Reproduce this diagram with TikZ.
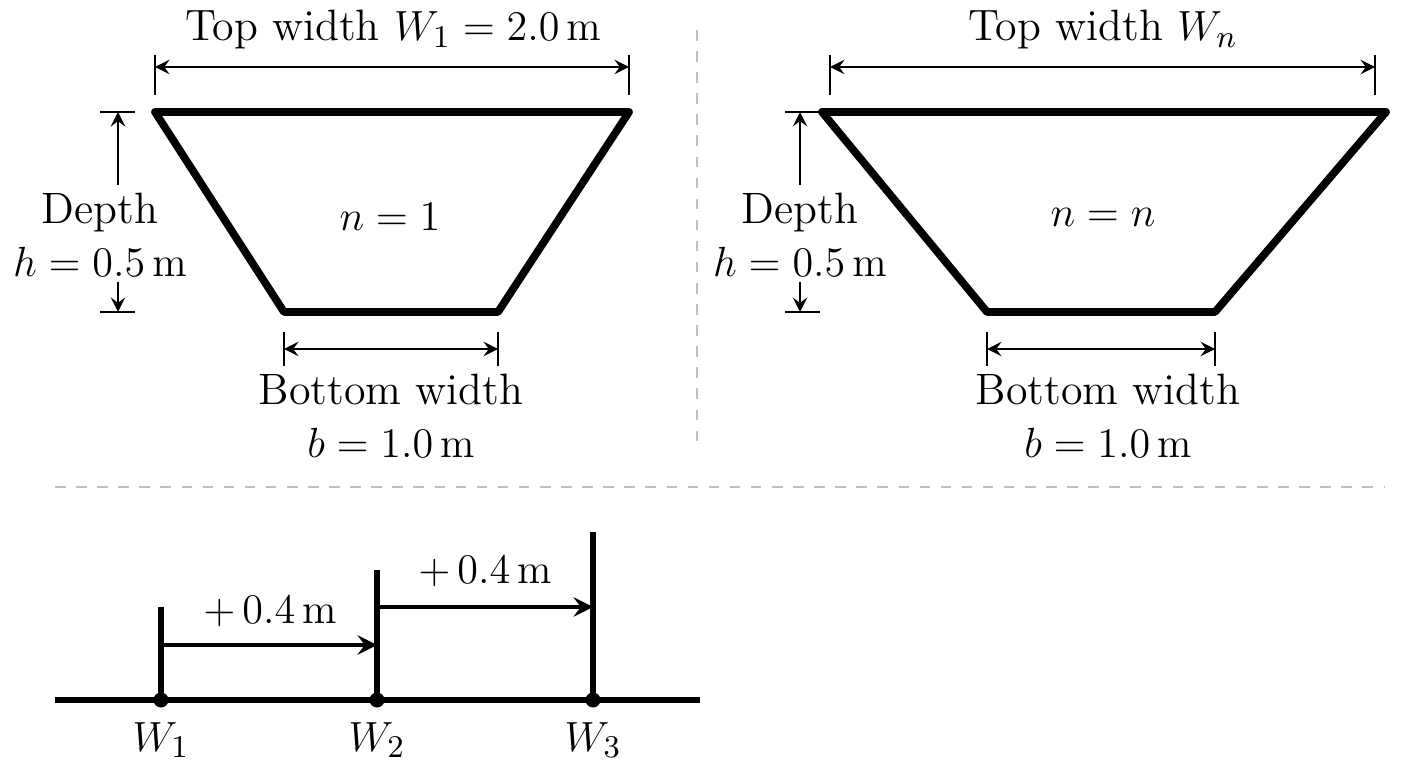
\documentclass[tikz,border=0pt]{standalone}
\usepackage{amsmath}
\usetikzlibrary{calc}
\tikzset{
  dim/.style={thick, <->, >=stealth},
  tick/.style={thick},
  channel/.style={line width=2.2pt, line join=round},
  lbl/.style={font=\fontsize{12.5}{15}\selectfont, align=center},
}
\begin{document}
\begin{tikzpicture}[x=0.1mm, y=-0.1mm]
  \useasboundingbox (0,0) rectangle (1408,768);
  % separators
  \draw[gray!50, dashed] (697,30)--(697,450);
  \draw[gray!50, dashed] (55,487)--(1385,487);

  % left section
  \coordinate (tl1) at (155,112); \coordinate (tr1) at (629,112);
  \coordinate (br1) at (498,312); \coordinate (bl1) at (284,312);
  \draw[channel] (tl1)--(tr1)--(br1)--(bl1)--cycle;
  \node[lbl] (n1) at (390,217) {$n=1$};
  \draw[tick] (155,55)--(155,95); \draw[tick] (629,55)--(629,95);
  \draw[dim] (155,67)--(629,67);
  \node[lbl] (top1) at (393,30) {Top width $W_1 = 2.0\,\mathrm{m}$};
  \draw[tick] (100,112)--(135,112); \draw[tick] (100,312)--(135,312);
  \node[lbl] (dep1) at (100,235) {Depth\\$h = 0.5\,\mathrm{m}$};
  \draw[thick, ->, >=stealth] (118,185)--(118,112);
  \draw[thick, ->, >=stealth] (118,282)--(118,312);
  \draw[tick] (284,332)--(284,366); \draw[tick] (498,332)--(498,366);
  \draw[dim] (284,349)--(498,349);
  \node[lbl] (bot1) at (391,416) {Bottom width\\$b = 1.0\,\mathrm{m}$};

  % right section
  \coordinate (tl2) at (822,112); \coordinate (tr2) at (1386,112);
  \coordinate (br2) at (1215,312); \coordinate (bl2) at (987,312);
  \draw[channel] (tl2)--(tr2)--(br2)--(bl2)--cycle;
  \node[lbl] (n2) at (1103,217) {$n=n$};
  \draw[tick] (830,55)--(830,95); \draw[tick] (1375,55)--(1375,95);
  \draw[dim] (830,67)--(1375,67);
  \node[lbl] (top2) at (1103,30) {Top width $W_n$};
  \draw[tick] (785,112)--(820,112); \draw[tick] (785,312)--(820,312);
  \node[lbl] (dep2) at (800,235) {Depth\\$h = 0.5\,\mathrm{m}$};
  \draw[thick, ->, >=stealth] (800,185)--(800,112);
  \draw[thick, ->, >=stealth] (800,282)--(800,312);
  \draw[tick] (987,332)--(987,366); \draw[tick] (1215,332)--(1215,366);
  \draw[dim] (987,349)--(1215,349);
  \node[lbl] (bot2) at (1108,416) {Bottom width\\$b = 1.0\,\mathrm{m}$};

  % width steps
  \draw[line width=1.6pt] (55,700)--(700,700);
  \foreach \i/\x/\t in {1/161/607, 2/377/570, 3/593/532} {
    \coordinate (p\i) at (\x,700);
    \coordinate (q\i) at (\x,\t);
    \draw[line width=1.6pt] (p\i)--(q\i);
    \fill (p\i) circle (7.5);
    \node[lbl] (w\i) at (\x,740) {$W_{\i}$};
  }
  \draw[line width=1.4pt, -stealth] (161,645)--(377,645);
  \draw[line width=1.4pt, -stealth] (377,607)--(593,607);
  \node[lbl] (s1) at (270,612) {$+\,0.4\,\mathrm{m}$};
  \node[lbl] (s2) at (485,572) {$+\,0.4\,\mathrm{m}$};
\end{tikzpicture}
\end{document}
